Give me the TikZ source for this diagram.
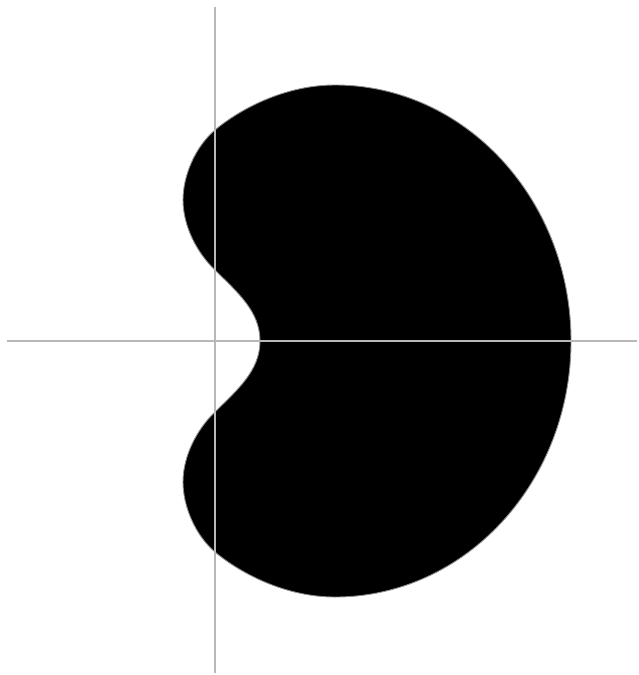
\documentclass[tikz,border=0pt]{standalone}
\begin{document}
\begin{tikzpicture}[x=1pt,y=1pt,
  axis/.style={draw=black!28, line width=1.6pt},
  bean/.style={fill=black, draw=black!45, line width=0.9pt}]
\useasboundingbox (0,0) rectangle (638,-675);
\begin{scope}[shift={(215,-341)}]
\path[bean] (120,256)
  arc[start angle=90, end angle=-90, x radius=236, y radius=256]
  .. controls (70,-256) and (25,-232) .. (0,-211)
  .. controls (-20,-194) and (-32,-165) .. (-32,-141)
  .. controls (-32,-115) and (-18,-88) .. (0,-71)
  .. controls (22,-49) and (45,-30) .. (45,0)
  .. controls (45,30) and (22,49) .. (0,71)
  .. controls (-18,88) and (-32,115) .. (-32,141)
  .. controls (-32,165) and (-20,194) .. (0,211)
  .. controls (25,232) and (70,256) .. (120,256) -- cycle;
\coordinate (xl) at (-208,0);
\coordinate (xr) at (422,0);
\coordinate (yt) at (0,334);
\coordinate (yb) at (0,-332);
\draw[axis] (xl) -- (xr);
\draw[axis] (yb) -- (yt);
\end{scope}
\end{tikzpicture}
\end{document}
